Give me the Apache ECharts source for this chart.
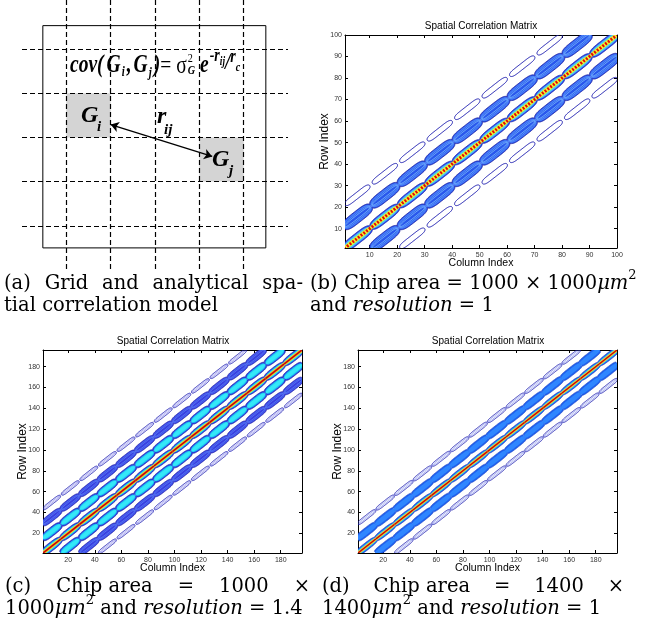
<!DOCTYPE html>
<html>
<head>
<meta charset="utf-8">
<script src="https://cdn.jsdelivr.net/npm/echarts@6/dist/echarts.min.js"></script>
<style>html,body{margin:0;padding:0;background:#fff}#main{width:651px;height:630px}</style>
</head>
<body>
<div id="main"></div>
<script>
// (a) 网格示意图，单位 = 一个网格
var gridLinePos = [1, 2, 3, 4, 5];
var boxEdge = [0.47, 5.5];
var cellGi = [1, 2];
var cellGj = [4, 3];
var arrowFrom = [2.0, 2.71];
var arrowTo = [4.29, 3.43];

// (b) 10x10 网格, 100 个下标
var bSize = 100, bGrid = 10;
var bCells = [0, 10, 20, 30, 40, 50, 60, 70, 80, 90];
var bOffsets = [-20, -10, 0, 10, 20];
var bLevels = [1, 2, 3, 2, 1];
var bTicks = [10, 20, 30, 40, 50, 60, 70, 80, 90, 100];

// (c) 14x14 网格, resolution 1.4
var cSize = 196, cGrid = 14;
var cCells = [0, 14, 28, 42, 56, 70, 84, 98, 112, 126, 140, 154, 168, 182];
var cOffsets = [-42, -28, -14, 0, 14, 28, 42];
var cLevels = [1, 2, 3, 4, 3, 2, 1];
var cTicks = [20, 40, 60, 80, 100, 120, 140, 160, 180];

// (d) 14x14 网格, 1400um
var dSize = 196, dGrid = 14;
var dCells = [0, 14, 28, 42, 56, 70, 84, 98, 112, 126, 140, 154, 168, 182];
var dOffsets = [-28, -14, 0, 14, 28];
var dLevels = [1, 2, 3, 2, 1];
var dTicks = [20, 40, 60, 80, 100, 120, 140, 160, 180];

// 等高线层次样式 (jet 色). nk = 两端收口宽度比例, pe = 形状指数, top 层第二遍画
var bStyles = {
    3: [{hw: 5.0, len: 1.0, nk: 0.3, pe: 4, fill: '#2450ee', stroke: '#1c1ca8', lw: 0.8},
        {hw: 4.0, len: 0.98, pe: 4, fill: '#5aa8ff'},
        {hw: 3.1, len: 0.97, pe: 4, fill: '#48e6d8'},
        {hw: 2.2, len: 1.0, nk: 0.7, fill: '#f2f230', top: true},
        {core: true, color: '#e00808', lw: 3.0, dash: true, top: true}],
    2: [{hw: 5.6, len: 1.0, nk: 0.3, pe: 4, fill: '#2a58ec', stroke: '#1a1a9c', lw: 0.8},
        {hw: 4.3, len: 0.96, pe: 4, stroke: '#5c98ff', lw: 0.8},
        {hw: 3.0, len: 0.93, pe: 4, stroke: '#70b0ff', lw: 0.8},
        {hw: 1.6, len: 0.9, pe: 4, stroke: '#86c8ff', lw: 0.8}],
    1: [{hw: 2.8, len: 0.9, pe: 6, stroke: '#1c1cb0', lw: 1.0}]
};
var cStyles = {
    4: [{hw: 4.0, len: 1.0, nk: 0.45, fill: '#2a46e8', stroke: '#1a1aa0', lw: 0.7},
        {hw: 3.0, len: 0.98, nk: 0.2, fill: '#22dcf5'},
        {hw: 1.9, len: 1.0, nk: 0.8, fill: '#e8e830', top: true},
        {core: true, color: '#e82010', lw: 2.0, top: true},
        {core: true, color: '#8a0000', lw: 0.6, top: true}],
    3: [{hw: 4.1, len: 1.0, nk: 0.4, pe: 4, fill: '#2848e6', stroke: '#1818a0', lw: 0.7},
        {hw: 3.1, len: 0.97, pe: 4, fill: '#1ec8f0'},
        {hw: 2.0, len: 0.93, pe: 4, fill: '#34e8f8'}],
    2: [{hw: 3.7, len: 1.0, nk: 0.35, pe: 4, fill: '#3a40e0', stroke: '#1a1aa0', lw: 0.7},
        {hw: 2.5, len: 0.95, pe: 4, stroke: '#5a8cff', lw: 0.6},
        {hw: 1.3, len: 0.9, pe: 4, stroke: '#6aa0ff', lw: 0.6}],
    1: [{hw: 1.8, len: 0.94, pe: 6, stroke: '#1a1ab0', lw: 0.9},
        {hw: 0.6, len: 0.86, pe: 6, stroke: '#5050e0', lw: 0.5}]
};
var dStyles = {
    3: [{hw: 3.5, len: 1.0, nk: 0.55, fill: '#1e5ef0', stroke: '#1a2ab0', lw: 0.6},
        {hw: 2.5, len: 1.0, nk: 0.5, fill: '#30c0f0'},
        {hw: 1.6, len: 1.0, nk: 0.85, fill: '#f0e830', top: true},
        {core: true, color: '#e82010', lw: 1.7, top: true},
        {core: true, color: '#8a0000', lw: 0.5, top: true}],
    2: [{hw: 3.9, len: 1.0, nk: 0.6, pe: 4, fill: '#1f62ee', stroke: '#1f3fc0', lw: 0.6},
        {hw: 2.4, len: 1.0, nk: 0.4, pe: 4, fill: '#2f86ff'}],
    1: [{hw: 1.9, len: 0.97, pe: 6, stroke: '#2020b0', lw: 0.9},
        {hw: 0.7, len: 0.9, pe: 6, stroke: '#4a5ae0', lw: 0.5}]
};

function bandData(cells, offsets, levels, g, n) {
    var out = [];
    offsets.forEach(function (off, k) {
        cells.forEach(function (s) {
            var y0 = s + off;
            if (y0 + g <= 0 || y0 >= n) return;
            out.push([s + 0.5, y0 + 0.5, levels[k]]);
        });
    });
    return out;
}

// 胶囊形: 中段平直, 两端渐收到 nk*hw
function capsuleSides(p0, p1, len, hw, nk, pe) {
    var cx = (p0[0] + p1[0]) / 2, cy = (p0[1] + p1[1]) / 2;
    var dx = p1[0] - p0[0], dy = p1[1] - p0[1];
    var d = Math.sqrt(dx * dx + dy * dy), ux = dx / d, uy = dy / d, nx = -uy, ny = ux;
    var a = d / 2 * len, top = [], bot = [], N = 48;
    for (var i = 0; i <= N; i++) {
        var s = Math.sin((-1 + 2 * i / N) * Math.PI / 2);
        var h = hw * (nk + (1 - nk) * Math.sqrt(Math.max(0, 1 - Math.pow(Math.abs(s), pe))));
        top.push([cx + ux * s * a + nx * h, cy + uy * s * a + ny * h]);
        bot.push([cx + ux * s * a - nx * h, cy + uy * s * a - ny * h]);
    }
    return [top, bot];
}

function contourSeries(gi, data, g, styles, topPass) {
    return {
        type: 'custom', xAxisIndex: gi, yAxisIndex: gi, clip: true, silent: true,
        data: data, encode: {x: 0, y: 1}, z: topPass ? 3 : 2,
        renderItem: function (params, api) {
            var x0 = api.value(0), y0 = api.value(1), lv = api.value(2);
            var p0 = api.coord([x0, y0]), p1 = api.coord([x0 + g, y0 + g]);
            var unit = Math.sqrt(Math.pow(p1[0] - p0[0], 2) + Math.pow(p1[1] - p0[1], 2)) / g;
            var children = [];
            styles[lv].forEach(function (L) {
                if (!!L.top !== !!topPass) return;
                if (L.core) {
                    children.push({type: 'line', shape: {x1: p0[0], y1: p0[1], x2: p1[0], y2: p1[1]},
                        style: {stroke: L.color, lineWidth: L.lw, fill: 'none',
                            lineDash: L.dash ? [unit * 0.55, unit * 0.45] : null,
                            lineDashOffset: L.dash ? unit * 0.78 : 0}});
                    return;
                }
                var nk = L.nk || 0;
                var sides = capsuleSides(p0, p1, L.len, L.hw, nk, L.pe || 3);
                var ring = sides[0].concat(sides[1].slice().reverse());
                if (nk > 0) {
                    // 收口处不描边, 只描两条长边
                    children.push({type: 'polygon', shape: {points: ring}, style: {fill: L.fill || 'none', stroke: 'none'}});
                    if (L.stroke) {
                        sides.forEach(function (side) {
                            children.push({type: 'polyline', shape: {points: side},
                                style: {stroke: L.stroke, lineWidth: L.lw, fill: 'none'}});
                        });
                    }
                } else {
                    children.push({type: 'polygon', shape: {points: ring},
                        style: {fill: L.fill || 'none', stroke: L.stroke || 'none', lineWidth: L.lw || 0}});
                }
            });
            return {type: 'group', children: children};
        }
    };
}

// 坐标轴 (matlab 风格, 四边框 + 内向刻度)
var SANS = '"Liberation Sans", Arial, sans-serif';
function xAxes(gi, n, ticks) {
    var base = {type: 'value', gridIndex: gi, min: 1, max: n, splitLine: {show: false},
        axisLine: {show: true, onZero: false, lineStyle: {color: '#000', width: 1}},
        axisTick: {show: true, inside: true, length: 3, customValues: ticks, lineStyle: {color: '#000'}}};
    return [
        Object.assign({}, base, {position: 'bottom',
            axisLabel: {customValues: ticks, fontSize: 7, color: '#333', margin: 4, fontFamily: SANS},
            name: 'Column Index', nameLocation: 'middle', nameGap: 10, nameMoveOverlap: false,
            nameTextStyle: {fontSize: 10.5, fontFamily: SANS, color: '#000'}}),
        Object.assign({}, base, {position: 'top', axisLabel: {show: false}})
    ];
}
function yAxes(gi, n, ticks) {
    var base = {type: 'value', gridIndex: gi, min: 1, max: n, splitLine: {show: false},
        axisLine: {show: true, onZero: false, lineStyle: {color: '#000', width: 1}},
        axisTick: {show: true, inside: true, length: 3, customValues: ticks, lineStyle: {color: '#000'}}};
    return [
        Object.assign({}, base, {position: 'left',
            axisLabel: {customValues: ticks, fontSize: 7, color: '#333', margin: 3, fontFamily: SANS},
            name: 'Row Index', nameLocation: 'middle', nameGap: 14, nameMoveOverlap: false,
            nameTextStyle: {fontSize: 12, fontFamily: SANS, color: '#000'}}),
        Object.assign({}, base, {position: 'right', axisLabel: {show: false}})
    ];
}

var xb = xAxes(1, bSize, bTicks), xc = xAxes(2, cSize, cTicks), xd = xAxes(3, dSize, dTicks);
var yb = yAxes(1, bSize, bTicks), yc = yAxes(2, cSize, cTicks), yd = yAxes(3, dSize, dTicks);

// (a) 的虚线网格
var dashLines = [];
gridLinePos.forEach(function (p) {
    dashLines.push({coords: [[p, -0.11], [p, 6]]});
    dashLines.push({coords: [[0, p], [6, p]]});
});
var box = [[boxEdge[0], boxEdge[0]], [boxEdge[1], boxEdge[0]], [boxEdge[1], boxEdge[1]],
    [boxEdge[0], boxEdge[1]], [boxEdge[0], boxEdge[0]]];

// 文字
var ctx = document.createElement('canvas').getContext('2d');
function tw(t, f) { ctx.font = f; return ctx.measureText(t).width; }
function txt(x, y, t, f, extra, sx) {
    return {type: 'text', x: x, y: y, z: 100, silent: true, scaleX: sx || 1,
        style: Object.assign({text: t, font: f, fill: '#000', verticalAlign: 'middle'}, extra || {})};
}
// 依次排列的文字片段: [文本, 字体, dy, 额外间距]
function seq(x, y, pieces, sx) {
    sx = sx || 1;
    var out = [];
    pieces.forEach(function (p) {
        out.push(txt(x, y + (p[2] || 0), p[0], p[1], null, sx));
        x += tw(p[0], p[1]) * sx + (p[3] || 0);
    });
    return {els: out, x: x};
}
function justify(words, x0, x1, y, f) {
    var total = 0;
    words.forEach(function (t) { total += tw(t, f); });
    var gap = (x1 - x0 - total) / (words.length - 1), x = x0, out = [];
    words.forEach(function (t) { out.push(txt(x, y, t, f)); x += tw(t, f) + gap; });
    return out;
}

var CAP = '19.5px "DejaVu Serif"', CAPI = 'italic 19.5px "DejaVu Serif"', SUP = '13px "DejaVu Serif"';
var BI = function (s) { return 'italic bold ' + s + 'px "Liberation Serif"'; };
var RM = function (s) { return s + 'px "Liberation Serif"'; };

var texts = [];
texts.push(txt(481, 26, 'Spatial Correlation Matrix', '10px ' + SANS, {align: 'center'}));
texts.push(txt(173, 341, 'Spatial Correlation Matrix', '10px ' + SANS, {align: 'center'}));
texts.push(txt(488, 341, 'Spatial Correlation Matrix', '10px ' + SANS, {align: 'center'}));

// 公式 cov(Gi,Gj) = σG² e^(-rij/rc), 字形横向压缩
var FX = 0.78;
var f1 = seq(70, 66, [
    ['cov(', BI(25), 0, 3], ['G', BI(25), 0, 1], ['i', BI(14), 6, 2], [',', BI(25), 0, 2], ['G', BI(25), 0, 1],
    ['j', BI(14), 7, 2], [')', BI(25)], ['=', RM(25), 0, 5], ['σ', RM(25), 0, 1]
], FX);
texts = texts.concat(f1.els);
texts.push(txt(f1.x, 59, '2', RM(13), null, FX));
texts.push(txt(f1.x, 71, 'G', BI(13), null, FX));
var f2 = seq(f1.x + tw('G', BI(13)) * FX + 5, 66, [
    ['e', BI(25), 0, 1], ['-r', BI(18), -10], ['ij', BI(12), -4], ['/', BI(24), -3], ['r', BI(18), -9], ['c', BI(13), 2]
], FX);
texts = texts.concat(f2.els);

texts.push(txt(81, 116, 'G', BI(24)));
texts.push(txt(97, 127, 'i', BI(15)));
texts.push(txt(157, 117, 'r', BI(24)));
texts.push(txt(164, 130, 'ij', BI(15)));
texts.push(txt(212, 160, 'G', BI(24)));
texts.push(txt(229, 171, 'j', BI(15)));

// 图注
texts = texts.concat(justify(['(a)', 'Grid', 'and', 'analytical', 'spa-'], 4, 303, 284, CAP));
texts.push(txt(4, 306, 'tial correlation model', CAP));
texts = texts.concat(seq(310, 284, [['(b) Chip area = 1000 × 1000', CAP], ['μm', CAPI], ['2', SUP, -8]]).els);
texts = texts.concat(seq(310, 306, [['and ', CAP], ['resolution', CAPI], [' = 1', CAP]]).els);
texts = texts.concat(justify(['(c)', 'Chip area', '=', '1000', '×'], 5, 310, 587, CAP));
texts = texts.concat(seq(5, 609, [['1000', CAP], ['μm', CAPI], ['2', SUP, -8], [' and ', CAP],
    ['resolution', CAPI], [' = 1.4', CAP]]).els);
texts = texts.concat(justify(['(d)', 'Chip area', '=', '1400', '×'], 322, 624, 587, CAP));
texts = texts.concat(seq(322, 609, [['1400', CAP], ['μm', CAPI], ['2', SUP, -8], [' and ', CAP],
    ['resolution', CAPI], [' = 1', CAP]]).els);

var bData = bandData(bCells, bOffsets, bLevels, bGrid, bSize);
var cData = bandData(cCells, cOffsets, cLevels, cGrid, cSize);
var dData = bandData(dCells, dOffsets, dLevels, dGrid, dSize);

var myChart = echarts.init(document.getElementById('main'));
var option = {
    backgroundColor: '#fff',
    animation: false,
    grid: [
        {left: 22, top: 0, width: 266, height: 270},
        {left: 345, top: 35, width: 272, height: 213},
        {left: 43, top: 350, width: 259, height: 203},
        {left: 358, top: 350, width: 259, height: 203}
    ],
    xAxis: [{type: 'value', gridIndex: 0, min: 0, max: 6, show: false},
        xb[0], xb[1], xc[0], xc[1], xd[0], xd[1]],
    yAxis: [{type: 'value', gridIndex: 0, min: -0.11, max: 6, inverse: true, show: false},
        yb[0], yb[1], yc[0], yc[1], yd[0], yd[1]],
    graphic: texts,
    series: [
        {
            type: 'custom', xAxisIndex: 0, yAxisIndex: 0, silent: true,
            data: [cellGi, cellGj],
            renderItem: function (params, api) {
                var p0 = api.coord([api.value(0), api.value(1)]);
                var p1 = api.coord([api.value(0) + 1, api.value(1) + 1]);
                return {type: 'rect', shape: {x: p0[0], y: p0[1], width: p1[0] - p0[0], height: p1[1] - p0[1]},
                    style: {fill: '#d4d4d4'}};
            }
        },
        {
            type: 'lines', coordinateSystem: 'cartesian2d', xAxisIndex: 0, yAxisIndex: 0, silent: true,
            data: dashLines, lineStyle: {color: '#000', width: 1.2, type: [5, 3], opacity: 1}
        },
        {
            type: 'lines', coordinateSystem: 'cartesian2d', xAxisIndex: 0, yAxisIndex: 0, silent: true,
            polyline: true, data: [{coords: box}], lineStyle: {color: '#000', width: 1, opacity: 1}
        },
        {
            type: 'lines', coordinateSystem: 'cartesian2d', xAxisIndex: 0, yAxisIndex: 0, silent: true,
            symbol: ['arrow', 'arrow'], symbolSize: 8,
            data: [{coords: [arrowFrom, arrowTo]}], lineStyle: {color: '#000', width: 1.4, opacity: 1}
        },
        contourSeries(1, bData, bGrid, bStyles, false),
        contourSeries(1, bData, bGrid, bStyles, true),
        contourSeries(3, cData, cGrid, cStyles, false),
        contourSeries(3, cData, cGrid, cStyles, true),
        contourSeries(5, dData, dGrid, dStyles, false),
        contourSeries(5, dData, dGrid, dStyles, true)
    ]
};
myChart.setOption(option);
</script>
</body>
</html>
